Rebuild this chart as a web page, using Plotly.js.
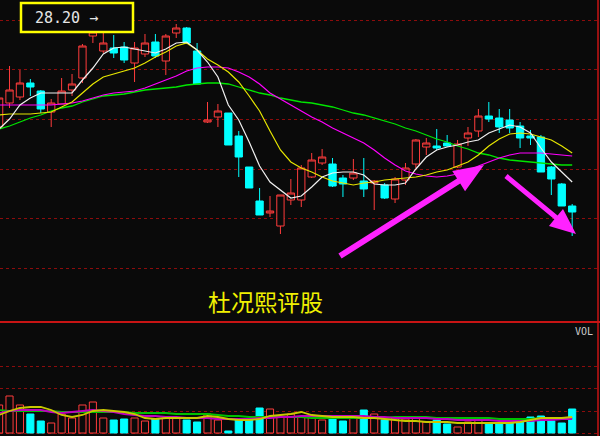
<!DOCTYPE html>
<html><head><meta charset="utf-8">
<script src="https://cdn.plot.ly/plotly-3.0.1.min.js"></script>
<style>html,body{margin:0;padding:0;background:#0a0a0a;}#chart{width:600px;height:436px;}</style>
</head><body><div id="chart"></div>
<script>
// ---- price candles (one per trading day, left to right) ----
const openP  = [24.90,25.62,25.80,26.22,25.98,25.35,25.59,26.01,26.37,27.63, 27.18,27.27,27.30,26.82,27.09,27.45,26.88,27.72,27.87,27.18, 25.05,25.20,25.32,24.63,23.70,22.68,22.32,21.93,22.71,22.71, 23.40,23.82,23.79,23.37,23.37,23.28,23.22,23.16,22.74,23.31, 23.79,24.30,24.33,24.42,23.70,24.57,24.78,25.23,25.17,25.11, 24.93,24.63,24.60,23.70,23.19,22.53];
const highP  = [25.86,26.73,26.61,26.34,26.01,25.74,26.37,26.49,27.39,28.20, 28.08,27.66,27.45,27.45,27.69,27.69,27.69,27.99,27.90,27.42, 25.65,25.59,25.32,24.78,23.70,23.07,22.83,22.86,23.34,23.76, 24.12,24.24,23.97,23.46,23.94,23.97,23.31,23.22,23.40,23.82, 24.54,24.57,24.84,24.66,24.51,24.90,25.44,25.65,25.44,25.44, 25.05,24.81,24.66,23.73,23.22,22.59];
const lowP   = [24.81,25.47,25.71,25.83,25.32,24.90,25.59,25.83,26.22,27.42, 27.12,26.97,26.82,26.25,27.00,26.97,26.46,27.57,27.39,26.19, 25.02,24.90,24.36,23.40,23.07,22.26,22.20,21.69,22.56,22.50, 23.37,23.76,23.10,22.80,23.31,22.80,22.41,22.74,22.62,23.16, 23.67,24.06,24.21,24.30,23.67,24.33,24.60,25.05,24.72,24.72, 24.27,24.36,23.55,22.86,22.53,21.63];
const closeP = [25.77,26.01,26.22,26.10,25.44,25.62,25.98,26.19,27.33,27.75, 27.42,27.12,26.91,27.27,27.42,27.03,27.63,27.87,27.42,26.19, 25.11,25.38,24.36,24.00,23.07,22.26,22.38,22.86,22.92,23.67, 23.91,24.00,23.13,23.19,23.52,23.04,23.28,22.77,23.34,23.67, 24.51,24.42,24.27,24.33,24.39,24.72,25.23,25.14,24.90,24.87, 24.57,24.57,23.55,23.34,22.53,22.35];

// ---- moving average lines on price ----
const ma5  = [24.84,25.14,25.56,25.77,25.92,25.92,25.92,25.92,26.31,26.67, 27.09,27.27,27.30,27.24,27.18,27.12,27.24,27.42,27.45,27.21, 26.85,26.40,25.56,25.11,24.45,23.73,23.25,23.01,22.77,22.83, 23.10,23.40,23.52,23.55,23.55,23.46,23.19,23.16,23.16,23.22, 23.64,24.00,24.21,24.30,24.36,24.45,24.51,24.72,24.84,24.96, 24.90,24.72,24.27,23.85,23.55,23.25];
const ma10 = [25.26,25.29,25.29,25.29,25.32,25.35,25.50,25.65,25.92,26.19, 26.40,26.49,26.58,26.67,26.82,27.00,27.15,27.33,27.42,27.21, 26.94,26.76,26.55,26.25,25.83,25.38,24.78,24.21,23.85,23.67, 23.55,23.40,23.28,23.22,23.16,23.22,23.25,23.31,23.34,23.37, 23.40,23.46,23.55,23.61,23.73,23.85,24.06,24.33,24.54,24.69, 24.72,24.69,24.60,24.51,24.33,24.12];
const ma20 = [25.56,25.56,25.56,25.56,25.56,25.56,25.59,25.62,25.68,25.77, 25.86,25.92,25.95,25.98,26.07,26.19,26.31,26.43,26.58,26.67, 26.70,26.70,26.67,26.55,26.40,26.19,25.92,25.74,25.56,25.38, 25.20,25.05,24.87,24.72,24.57,24.42,24.21,23.97,23.76,23.58, 23.49,23.43,23.40,23.43,23.49,23.58,23.73,23.85,23.97,24.06, 24.12,24.12,24.12,24.09,24.06,24.03];
const ma60 = [24.84,24.93,25.05,25.17,25.26,25.38,25.47,25.53,25.65,25.74, 25.83,25.86,25.89,25.95,26.01,26.04,26.07,26.10,26.16,26.19, 26.22,26.22,26.19,26.10,26.01,25.92,25.86,25.77,25.71,25.65, 25.62,25.56,25.50,25.41,25.32,25.26,25.17,25.08,24.99,24.87, 24.78,24.66,24.54,24.45,24.33,24.24,24.12,24.06,23.97,23.91, 23.88,23.85,23.82,23.79,23.76,23.76];

// ---- volume and its averages ----
const volume = [28000,37000,28000,19000,12000,10000,19000,15000,28000,31000, 15000,13000,14000,15000,12000,14000,15000,15000,13000,11000, 19000,13000,2000,14000,14000,25000,24000,16000,19000,16000, 16000,13000,16000,12000,16000,23000,19000,13000,15000,14000, 15000,11000,13000,9000,6000,11000,13000,10000,10000,11000, 11000,16000,17000,12000,10000,24000];
const volMa5  = [18000,22000,25000,26000,26000,23000,18000,16000,18000,22000, 23000,22000,21000,19000,15000,14000,15000,15000,15000,15000, 17000,16000,14000,13000,13000,14000,17000,18000,19000,21000, 18000,17000,16000,16000,16000,15000,15000,14000,13000,12000, 12000,11000,11000,11000,10000,10000,10000,10000,10000,10000, 11000,13000,15000,15000,15000,16000];
const volMa10 = [20000,22000,23000,23000,23000,21000,20000,21000,22000,23000, 22000,21000,19000,18000,17000,17000,16000,16000,15000,15000, 15000,14000,14000,14000,14000,15000,15000,16000,16000,17000, 17000,17000,17000,17000,17000,17000,16000,16000,15000,15000, 15000,15000,14000,14000,13000,13000,13000,13000,12000,12000, 12000,12000,13000,13000,14000,14000];
const volMa20 = [23000,22000,22000,22000,22000,22000,21000,21000,21000,21000, 21000,21000,21000,20000,20000,20000,20000,19000,19000,19000, 19000,18000,17000,17000,16000,16000,16000,16000,16000,16000, 15000,15000,15000,15000,15000,15000,15000,15000,16000,16000, 16000,16000,15000,15000,15000,15000,15000,15000,14000,14000, 14000,14000,15000,15000,15000,15000];

const maxLabel = "28.20 →";
const watermark = "杜况熙评股";
const volLabel = "VOL";

const dayIdx = openP.map((_, i) => i);
const BG = '#0a0a0a', UP = '#ff3c3c', DOWN = '#00ffff';
const isUp = dayIdx.map(i => closeP[i] >= openP[i]);

const W = 600, H = 436, SPLIT = 322;
const px = x => x / W, py = y => 1 - y / H;

function arrowPath(tx, ty, hx, hy, bw, hw, hl) {
  const dx = hx - tx, dy = hy - ty, L = Math.hypot(dx, dy);
  const ux = dx / L, uy = dy / L, nx = -uy, ny = ux;
  const nkx = hx - ux * hl, nky = hy - uy * hl;
  const pts = [
    [tx + nx * bw / 2, ty + ny * bw / 2],
    [nkx + nx * bw / 2, nky + ny * bw / 2],
    [nkx + nx * hw / 2, nky + ny * hw / 2],
    [hx, hy],
    [nkx - nx * hw / 2, nky - ny * hw / 2],
    [nkx - nx * bw / 2, nky - ny * bw / 2],
    [tx - nx * bw / 2, ty - ny * bw / 2]
  ];
  return 'M' + pts.map(p => px(p[0]).toFixed(5) + ',' + py(p[1]).toFixed(5)).join(' L') + ' Z';
}

const traces = [
  {
    type: 'candlestick', x: dayIdx, open: openP, high: highP, low: lowP, close: closeP,
    xaxis: 'x', yaxis: 'y',
    increasing: { line: { color: UP, width: 1 }, fillcolor: BG },
    decreasing: { line: { color: DOWN, width: 1 }, fillcolor: DOWN },
    hoverinfo: 'skip'
  },
  { type: 'scatter', mode: 'lines', x: dayIdx, y: ma60, line: { color: '#00e600', width: 1.3 }, yaxis: 'y', hoverinfo: 'skip' },
  { type: 'scatter', mode: 'lines', x: dayIdx, y: ma20, line: { color: '#ff00ff', width: 1.2 }, yaxis: 'y', hoverinfo: 'skip' },
  { type: 'scatter', mode: 'lines', x: dayIdx, y: ma10, line: { color: '#e6e600', width: 1.2 }, yaxis: 'y', hoverinfo: 'skip' },
  { type: 'scatter', mode: 'lines', x: dayIdx, y: ma5, line: { color: '#f0f0f0', width: 1.2 }, yaxis: 'y', hoverinfo: 'skip' },
  {
    type: 'bar', x: dayIdx, y: volume, yaxis: 'y2', width: 0.68,
    marker: { color: isUp.map(u => u ? BG : DOWN), line: { color: isUp.map(u => u ? UP : DOWN), width: 1 } },
    hoverinfo: 'skip'
  },
  { type: 'scatter', mode: 'lines', x: dayIdx, y: volMa20, line: { color: '#00c000', width: 1.8 }, yaxis: 'y2', hoverinfo: 'skip' },
  { type: 'scatter', mode: 'lines', x: dayIdx, y: volMa10, line: { color: '#c000c0', width: 1.8 }, yaxis: 'y2', hoverinfo: 'skip' },
  { type: 'scatter', mode: 'lines', x: dayIdx, y: volMa5, line: { color: '#c8c800', width: 1.8 }, yaxis: 'y2', hoverinfo: 'skip' }
];

const gridStyle = { showgrid: true, gridcolor: '#8c0c0c', griddash: 'dot', gridwidth: 1, zeroline: false, showticklabels: false, ticks: '', showline: false, fixedrange: true };

const layout = {
  width: W, height: H,
  margin: { l: 0, r: 0, t: 0, b: 0, pad: 0 },
  paper_bgcolor: BG, plot_bgcolor: BG,
  showlegend: false,
  boxgap: 0,
  bargap: 0,
  xaxis: { range: [0.086, 57.67], showgrid: false, zeroline: false, showticklabels: false, ticks: '', showline: false, fixedrange: true, rangeslider: { visible: false } },
  yaxis: Object.assign({ domain: [1 - SPLIT / H, 1], range: [19.05, 28.71], tickvals: [28.11, 26.64, 25.14, 23.64, 22.17, 20.67] }, gridStyle),
  yaxis2: Object.assign({ domain: [0, 1 - SPLIT / H], range: [-3000, 111000], tickvals: [67000, 45000, 22000, 0], anchor: 'x' }, gridStyle),
  shapes: [
    { type: 'line', xref: 'paper', yref: 'paper', x0: 0, x1: 1, y0: py(SPLIT), y1: py(SPLIT), line: { color: '#c81414', width: 2 } },
    { type: 'line', xref: 'paper', yref: 'paper', x0: px(598), x1: px(598), y0: 0, y1: 1, line: { color: '#c81414', width: 1.5 } },
    { type: 'rect', xref: 'paper', yref: 'paper', x0: px(21), x1: px(133), y0: py(32), y1: py(3), line: { color: '#ffff00', width: 2.5 }, fillcolor: BG },
    { type: 'path', xref: 'paper', yref: 'paper', path: arrowPath(340, 256, 484, 165, 6, 24, 30), fillcolor: '#ff22ff', line: { width: 0 } },
    { type: 'path', xref: 'paper', yref: 'paper', path: arrowPath(506, 176, 576, 234, 5, 22, 26), fillcolor: '#ff22ff', line: { width: 0 } }
  ],
  annotations: [
    { xref: 'paper', yref: 'paper', x: px(33), y: py(18), xanchor: 'left', yanchor: 'middle', text: maxLabel, showarrow: false,
      font: { family: 'DejaVu Sans Mono, monospace', size: 15, color: '#e6e6e6' } },
    { xref: 'paper', yref: 'paper', x: px(265), y: py(301), xanchor: 'center', yanchor: 'middle', text: watermark, showarrow: false,
      font: { family: 'Noto Sans CJK SC, sans-serif', size: 23, color: '#f0f000' } },
    { xref: 'paper', yref: 'paper', x: px(595), y: py(331), xanchor: 'right', yanchor: 'middle', text: volLabel, showarrow: false,
      font: { family: 'DejaVu Sans Mono, monospace', size: 10, color: '#c8c8c8' } }
  ]
};

Plotly.newPlot('chart', traces, layout, { displayModeBar: false, staticPlot: true });
</script>
</body></html>
